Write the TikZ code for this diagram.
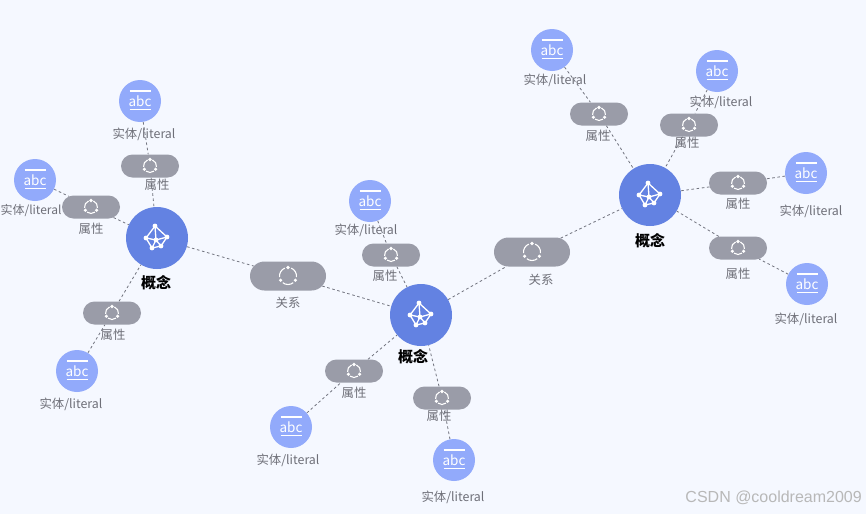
\documentclass[tikz,border=0pt]{standalone}
\usepackage{fontspec}
\setmainfont{Noto Sans CJK SC}
\newfontfamily\markfont{Liberation Sans}
\usetikzlibrary{shapes.misc,backgrounds}
\definecolor{pagecol}{HTML}{F5F8FF}
\definecolor{conceptcol}{HTML}{6382E2}
\definecolor{literalcol}{HTML}{92AAFB}
\definecolor{pillcol}{HTML}{9A9CA8}
\definecolor{textcol}{HTML}{6E6F78}
\definecolor{linecol}{HTML}{72747F}
\tikzset{
	concept/.style={circle,fill=conceptcol,minimum size=62pt,inner sep=0pt},
	literal/.style={circle,fill=literalcol,minimum size=42pt,inner sep=0pt},
	prop/.style={rounded rectangle,fill=pillcol,minimum width=58pt,minimum height=23pt,inner sep=0pt},
	rel/.style={rounded rectangle,fill=pillcol,minimum width=76pt,minimum height=29pt,inner sep=0pt},
	lab/.style={text=textcol,font=\fontsize{12.4}{14}\selectfont,inner sep=0pt},
	conceptlab/.style={text=black,font=\fontsize{15}{16}\selectfont\bfseries,inner sep=0pt},
	link/.style={draw=linecol,line width=0.8pt,dash pattern=on 2.6pt off 2.6pt},
	abcicon/.pic={
		\draw[white,line width=1.1pt] (-10.5,-10) -- (10.5,-10);
		\draw[white,line width=1.1pt] (-10.5,8.5) -- (10.5,8.5);
		\node[text=white,font=\fontsize{13.5}{14}\selectfont,inner sep=0pt,anchor=base] at (0,5.8) {abc};
	},
	relicon/.pic={
		\foreach \a in {-90,30,150} {
			\fill[white] (\a:#1) circle (1.8);
			\draw[white,line width=1.1pt] ({\a+22}:#1) arc ({\a+22}:{\a+98}:#1);
		}
	},
	concepticon/.pic={
		\coordinate (t) at (-2,-12);
		\coordinate (r) at (10,-1);
		\coordinate (d) at (4,8);
		\coordinate (b) at (-5,10);
		\coordinate (l) at (-11,0);
		\coordinate (m) at (-1,2);
		\draw[white,line width=1.3pt,line join=round] (t) -- (r) -- (d) -- (b) -- (l) -- cycle;
		\draw[white,line width=1.3pt] (t) -- (m) -- (d) (l) -- (m) -- (b) (r) -- (m);
		\foreach \p in {t,r,d,b,l,m}
			\fill[white] (\p) circle (2.4);
	}
}
\begin{document}
\begin{tikzpicture}[x=1pt,y=-1pt]
	\useasboundingbox (0,0) rectangle (866,514);
	\node[concept] (c1) at (157,238) {};
	\node[concept] (c2) at (421,315) {};
	\node[concept] (c3) at (650,195) {};
	\node[rel] (r1) at (288,276) {};
	\node[rel] (r2) at (532,252) {};
	\node[prop] (p1) at (150,166) {};
	\node[prop] (p2) at (91,207) {};
	\node[prop] (p3) at (112,313) {};
	\node[prop] (p4) at (391,255) {};
	\node[prop] (p5) at (354,371) {};
	\node[prop] (p6) at (442,398) {};
	\node[prop] (p7) at (599,114) {};
	\node[prop] (p8) at (689,125) {};
	\node[prop] (p9) at (738,183) {};
	\node[prop] (p10) at (738,248) {};
	\node[literal] (e1) at (140,101) {};
	\node[literal] (e2) at (35,180) {};
	\node[literal] (e3) at (77,371) {};
	\node[literal] (e4) at (370,201) {};
	\node[literal] (e5) at (291,427) {};
	\node[literal] (e6) at (454,460) {};
	\node[literal] (e7) at (552,50) {};
	\node[literal] (e8) at (717,71) {};
	\node[literal] (e9) at (806,173) {};
	\node[literal] (e10) at (807,284) {};

	\begin{scope}[on background layer]
		\fill[pagecol] (0,0) rectangle (866,514);
		\draw[link] (c1) -- (r1);
		\draw[link] (r1) -- (c2);
		\draw[link] (c2) -- (r2);
		\draw[link] (r2) -- (c3);
		\foreach \i/\j in {1/1,2/1,3/1,4/2,5/2,6/2,7/3,8/3,9/3,10/3} {
			\draw[link] (e\i) -- (p\i);
			\draw[link] (p\i) -- (c\j);
		}
	\end{scope}

	\foreach \n in {c1,c2,c3}
		\pic at (\n) {concepticon};
	\foreach \n in {e1,e2,e3,e4,e5,e6,e7,e8,e9,e10}
		\pic at (\n) {abcicon};
	\foreach \n in {p1,p2,p3,p4,p5,p6,p7,p8,p9,p10}
		\pic at (\n) {relicon=6.5};
	\foreach \n in {r1,r2}
		\pic at (\n) {relicon=8.5};

	\node[conceptlab] (lc1) at (156,283) {概念};
	\node[conceptlab] (lc2) at (413,357) {概念};
	\node[conceptlab] (lc3) at (650,241) {概念};
	\node[lab] (lr1) at (288,303) {关系};
	\node[lab] (lr2) at (541,280) {关系};
	\node[lab] (lp1) at (157,185) {属性};
	\node[lab] (lp2) at (91,229) {属性};
	\node[lab] (lp3) at (113,335) {属性};
	\node[lab] (lp4) at (385,276) {属性};
	\node[lab] (lp5) at (354,393) {属性};
	\node[lab] (lp6) at (439,416) {属性};
	\node[lab] (lp7) at (598,136) {属性};
	\node[lab] (lp8) at (687,143) {属性};
	\node[lab] (lp9) at (738,204) {属性};
	\node[lab] (lp10) at (738,274) {属性};
	\node[lab] (le1) at (144,134) {实体/literal};
	\node[lab,font=\fontsize{12}{14}\selectfont] (le2) at (31,210) {实体/literal};
	\node[lab] (le3) at (71,404) {实体/literal};
	\node[lab] (le4) at (366,230) {实体/literal};
	\node[lab] (le5) at (288,460) {实体/literal};
	\node[lab] (le6) at (453,497) {实体/literal};
	\node[lab] (le7) at (555,80) {实体/literal};
	\node[lab] (le8) at (721,102) {实体/literal};
	\node[lab] (le9) at (811,211) {实体/literal};
	\node[lab] (le10) at (806,319) {实体/literal};
	\node[text=black!28,font=\markfont\fontsize{16}{18}\selectfont,inner sep=0pt,anchor=east] (mark) at (862,498) {CSDN @cooldream2009};
\end{tikzpicture}
\end{document}
